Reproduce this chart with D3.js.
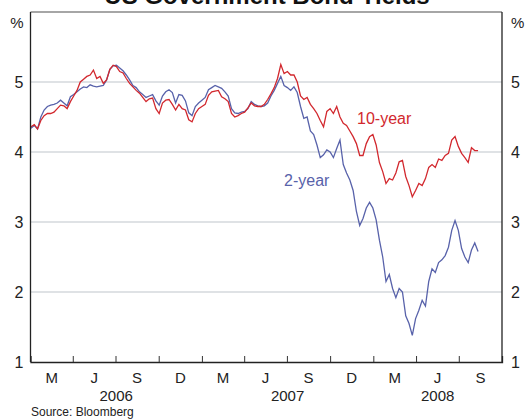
<!DOCTYPE html>
<html>
<head>
<meta charset="utf-8">
<script src="https://cdn.jsdelivr.net/npm/d3@7"></script>
<style>
  body { margin: 0; background: #fff; }
  svg { font-family: Arial, "Liberation Sans", sans-serif; }
</style>
</head>
<body>
<div id="chart"></div>
<script>
// weekly readings, first week starts 2 Jan 2006
var startDate = new Date(2006, 0, 2);
var tenYear = [
  4.36, 4.39, 4.33, 4.45, 4.52, 4.55, 4.55, 4.57, 4.62, 4.67, 4.66, 4.62, 4.72, 4.80, 4.88, 5.00,
  5.04, 5.08, 5.10, 5.17, 5.05, 5.08, 4.98, 5.03, 5.18, 5.24, 5.22, 5.15, 5.13, 5.05, 4.98, 4.93,
  4.88, 4.84, 4.78, 4.72, 4.76, 4.77, 4.62, 4.55, 4.70, 4.74, 4.75, 4.68, 4.60, 4.68, 4.62, 4.60,
  4.46, 4.43, 4.55, 4.62, 4.65, 4.68, 4.81, 4.86, 4.87, 4.88, 4.79, 4.76, 4.72, 4.55, 4.50, 4.52,
  4.55, 4.57, 4.63, 4.70, 4.66, 4.65, 4.65, 4.68, 4.75, 4.83, 4.92, 5.05, 5.25, 5.12, 5.15, 5.10,
  5.10, 5.00, 4.80, 4.75, 4.78, 4.68, 4.62, 4.55, 4.45, 4.36, 4.58, 4.62, 4.55, 4.65, 4.50, 4.41,
  4.38, 4.30, 4.22, 4.12, 3.95, 3.95, 4.12, 4.22, 4.25, 4.10, 3.85, 3.72, 3.55, 3.62, 3.60, 3.70,
  3.86, 3.88, 3.65, 3.52, 3.36, 3.45, 3.55, 3.52, 3.62, 3.78, 3.82, 3.78, 3.90, 3.88, 3.95, 3.98,
  4.17, 4.22, 4.08, 3.98, 3.92, 3.85, 4.06, 4.02, 4.02
];
var twoYear = [
  4.34, 4.38, 4.33, 4.50, 4.60, 4.65, 4.67, 4.68, 4.70, 4.74, 4.70, 4.66, 4.79, 4.82, 4.86, 4.90,
  4.93, 4.92, 4.96, 4.94, 4.93, 4.94, 4.95, 5.03, 5.18, 5.23, 5.24, 5.20, 5.16, 5.10, 5.03, 4.95,
  4.92, 4.86, 4.82, 4.78, 4.80, 4.82, 4.73, 4.67, 4.80, 4.86, 4.89, 4.85, 4.70, 4.82, 4.81, 4.73,
  4.56, 4.52, 4.65, 4.70, 4.74, 4.78, 4.89, 4.92, 4.95, 4.93, 4.91, 4.86, 4.80, 4.62, 4.56, 4.55,
  4.57, 4.58, 4.62, 4.72, 4.68, 4.66, 4.65, 4.66, 4.70, 4.80, 4.88, 4.98, 5.08, 4.95, 4.92, 4.88,
  4.93, 4.85, 4.65, 4.48, 4.50, 4.30, 4.25, 4.10, 3.92, 3.96, 4.03, 4.00, 3.92, 4.05, 4.17, 3.82,
  3.70, 3.60, 3.45, 3.15, 2.95, 3.05, 3.20, 3.28, 3.20, 3.03, 2.74, 2.50, 2.15, 2.25, 2.05, 1.92,
  2.05, 2.00, 1.66, 1.55, 1.38, 1.62, 1.74, 1.88, 1.80, 2.15, 2.33, 2.28, 2.42, 2.46, 2.52, 2.64,
  2.88, 3.02, 2.88, 2.62, 2.50, 2.42, 2.60, 2.70, 2.58
];
var yTicks = [1, 2, 3, 4, 5];
var quarterLabels = ["M", "J", "S", "D", "M", "J", "S", "D", "M", "J", "S"];
var yearLabels = ["2006", "2007", "2008"];

var W = 525, H = 419;
var m = { left: 30.5, right: 502, top: 12, bottom: 362 };

var svg = d3.select("#chart").append("svg").attr("width", W).attr("height", H);

var x = d3.scaleTime()
  .domain([new Date(2006, 0, 1), new Date(2008, 9, 1)])
  .range([m.left, m.right]);
var y = d3.scaleLinear().domain([1, 6]).range([m.bottom, m.top]);

var dates = tenYear.map(function(d, i) { return d3.timeDay.offset(startDate, i * 7); });

// gridlines
svg.append("g").selectAll("line").data([2, 3, 4, 5]).enter().append("line")
  .attr("x1", m.left).attr("x2", m.right)
  .attr("y1", function(d) { return y(d); }).attr("y2", function(d) { return y(d); })
  .attr("stroke", "#bfc5cc").attr("stroke-width", 1.2);

// lines
var line = d3.line()
  .x(function(d, i) { return x(dates[i]); })
  .y(function(d) { return y(d); });

svg.append("path").datum(twoYear).attr("d", line)
  .attr("fill", "none").attr("stroke", "#5862aa").attr("stroke-width", 1.3);
svg.append("path").datum(tenYear).attr("d", line)
  .attr("fill", "none").attr("stroke", "#d2282e").attr("stroke-width", 1.3);

// frame
svg.append("line").attr("x1", m.left).attr("x2", m.right).attr("y1", m.top).attr("y2", m.top)
  .attr("stroke", "#888").attr("stroke-width", 1.3);
svg.append("line").attr("x1", m.left).attr("x2", m.left).attr("y1", m.top).attr("y2", m.bottom)
  .attr("stroke", "#222").attr("stroke-width", 1.3);
svg.append("line").attr("x1", m.right).attr("x2", m.right).attr("y1", m.top).attr("y2", m.bottom)
  .attr("stroke", "#222").attr("stroke-width", 1.3);

// x axis: quarter ticks pointing in
var quarters = d3.timeMonth.every(3).range(new Date(2006, 0, 1), new Date(2008, 9, 2));
var xAxis = d3.axisBottom(x)
  .tickValues(quarters.slice(1, -1))
  .tickSize(-6).tickFormat("");
var gx = svg.append("g").attr("transform", "translate(0," + m.bottom + ")").call(xAxis);
gx.select(".domain").attr("stroke", "#222").attr("stroke-width", 1.3);
gx.selectAll(".tick line").attr("stroke", "#333");

svg.append("g").selectAll("text").data(quarterLabels).enter().append("text")
  .attr("x", function(d, i) {
    return (x(quarters[i]) + x(quarters[i + 1])) / 2;
  })
  .attr("y", 383).attr("text-anchor", "middle")
  .attr("font-size", 15).attr("fill", "#222").text(function(d) { return d; });

svg.append("g").selectAll("text").data(yearLabels).enter().append("text")
  .attr("x", function(d, i) {
    var a = new Date(+d, 0, 1), b = new Date(+d + 1, 0, 1);
    if (b > x.domain()[1]) b = x.domain()[1];
    return (x(a) + x(b)) / 2;
  })
  .attr("y", 401).attr("text-anchor", "middle")
  .attr("font-size", 15).attr("fill", "#222").text(function(d) { return d; });

// y labels both sides
var yl = d3.axisLeft(y).tickValues(yTicks).tickSize(0).tickPadding(7).tickFormat(d3.format("d"));
var gl = svg.append("g").attr("transform", "translate(" + m.left + ",0)").call(yl);
gl.select(".domain").remove();
gl.selectAll("text").attr("font-size", 16).attr("fill", "#222").attr("font-family", null);

var yr = d3.axisRight(y).tickValues(yTicks).tickSize(0).tickPadding(9).tickFormat(d3.format("d"));
var gr = svg.append("g").attr("transform", "translate(" + m.right + ",0)").call(yr);
gr.select(".domain").remove();
gr.selectAll("text").attr("font-size", 16).attr("fill", "#222").attr("font-family", null);

svg.append("text").attr("x", 17).attr("y", 28).attr("text-anchor", "middle")
  .attr("font-size", 15).attr("fill", "#222").text("%");
svg.append("text").attr("x", 511).attr("y", 28)
  .attr("font-size", 15).attr("fill", "#222").text("%");

// title (sits partly above the window)
svg.append("text").attr("x", 267).attr("y", 4).attr("text-anchor", "middle")
  .attr("font-size", 24).attr("font-weight", "bold").attr("fill", "#111")
  .text("US Government Bond Yields");

// series labels
svg.append("text").attr("x", 357).attr("y", 124)
  .attr("font-size", 16).attr("fill", "#d2282e").text("10-year");
svg.append("text").attr("x", 284).attr("y", 186)
  .attr("font-size", 16).attr("fill", "#5862aa").text("2-year");

svg.append("text").attr("x", 31).attr("y", 416)
  .attr("font-size", 12).attr("fill", "#222").text("Source: Bloomberg");
</script>
</body>
</html>
